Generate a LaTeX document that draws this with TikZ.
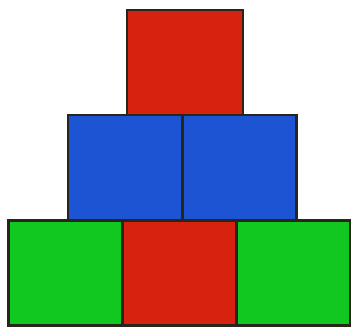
\documentclass[tikz,border=0pt]{standalone}
\usetikzlibrary{positioning}

\definecolor{blockred}{RGB}{214,34,14}
\definecolor{blockblue}{RGB}{28,84,212}
\definecolor{blockgreen}{RGB}{16,200,32}
\definecolor{blockedge}{RGB}{40,38,28}

\tikzset{
    block/.style={draw=blockedge, line width=2.4pt, inner sep=0pt,
        minimum width=114pt, minimum height=105pt}
}

\begin{document}
\begin{tikzpicture}[x=1pt, y=-1pt]

    \useasboundingbox (0,0) rectangle (351,327);

    % ---------------------------------------------------
    % Bottom row
    % ---------------------------------------------------
    \node[block, fill=blockgreen] (botL) at (65.5, 273) {};
    \node[block, fill=blockred]   (botM) at (180, 273) {};
    \node[block, fill=blockgreen] (botR) at (293.5, 273) {};

    % ---------------------------------------------------
    % Middle row
    % ---------------------------------------------------
    \node[block, fill=blockblue] (midL) at (125, 167.5) {};
    \node[block, fill=blockblue] (midR) at (239.5, 167.5) {};

    % ---------------------------------------------------
    % Top
    % ---------------------------------------------------
    \node[block, fill=blockred, minimum width=116pt] (top) at (185, 62.5) {};

\end{tikzpicture}
\end{document}
